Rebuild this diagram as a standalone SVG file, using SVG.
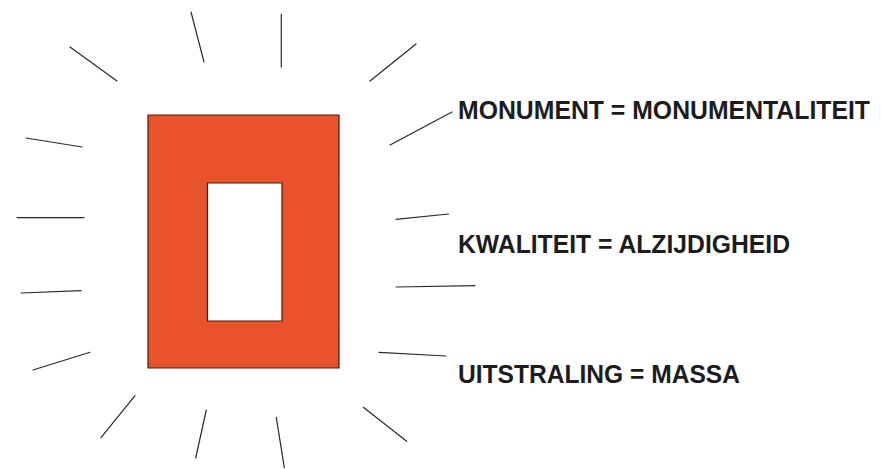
<svg xmlns="http://www.w3.org/2000/svg" width="881" height="469" viewBox="0 0 881 469">
<style>
.ray{stroke:#2a2a2a;stroke-width:1.2;fill:none;stroke-linecap:round}
.lbl{font-family:"Liberation Sans",Arial,sans-serif;font-weight:bold;font-size:25px;fill:#1c1c1c}
</style>
<rect width="881" height="469" fill="#ffffff"/>
<g id="monument">
<path d="M148,115 H339 V368 H148 Z M207.5,183 V321 H282 V183 Z" fill="#E9532B" fill-rule="evenodd" stroke="#4a1a0c" stroke-width="1.2"/>
</g>
<g id="rays">
<line class="ray" x1="70" y1="47" x2="117" y2="81"/>
<line class="ray" x1="191" y1="12" x2="204" y2="62"/>
<line class="ray" x1="281.3" y1="14" x2="281.3" y2="67"/>
<line class="ray" x1="416" y1="44" x2="370" y2="81"/>
<line class="ray" x1="452" y1="112" x2="390" y2="145"/>
<line class="ray" x1="26" y1="138" x2="82" y2="147"/>
<line class="ray" x1="17" y1="217.7" x2="84" y2="217.7"/>
<line class="ray" x1="396" y1="219.3" x2="448.5" y2="214"/>
<line class="ray" x1="21" y1="293" x2="81" y2="290.7"/>
<line class="ray" x1="396" y1="287" x2="475" y2="285.7"/>
<line class="ray" x1="33" y1="370" x2="90" y2="352.3"/>
<line class="ray" x1="379" y1="352.3" x2="446" y2="356"/>
<line class="ray" x1="135" y1="395.7" x2="101" y2="437.7"/>
<line class="ray" x1="206.3" y1="410" x2="195.7" y2="458"/>
<line class="ray" x1="276.3" y1="417.3" x2="284.3" y2="467.7"/>
<line class="ray" x1="363.3" y1="407.3" x2="406.7" y2="441.3"/>
</g>
<g id="labels">
<text class="lbl" x="458" y="119" textLength="412" lengthAdjust="spacingAndGlyphs">MONUMENT = MONUMENTALITEIT</text>
<text class="lbl" x="458" y="253.3" textLength="332" lengthAdjust="spacingAndGlyphs">KWALITEIT = ALZIJDIGHEID</text>
<text class="lbl" x="458" y="382.7" textLength="282" lengthAdjust="spacingAndGlyphs">UITSTRALING = MASSA</text>
</g>
</svg>
